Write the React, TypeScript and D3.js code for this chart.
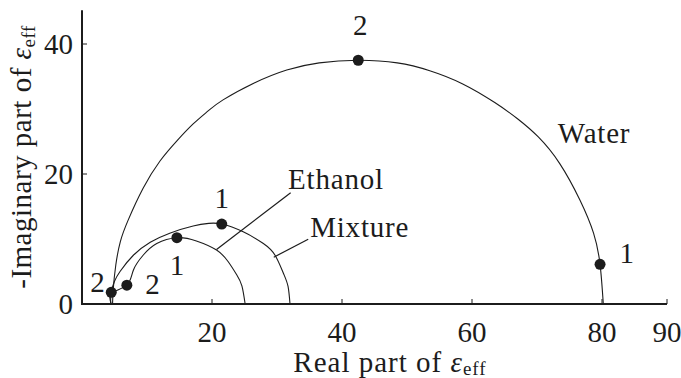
import React, { useRef, useEffect } from "react";
import * as d3 from "d3";

// axis ticks
const xTicks = [20, 40, 60, 80, 90];
const yTicks = [0, 20, 40];
const xMax = 90;
const yMax = 45.2;

// traced curves: [real, -imag]
const water: [number, number][] = [
  [4.7, 0], [4.8, 2.2], [5.2, 6.0], [5.9, 9.6], [7.1, 12.9], [9.4, 17.8],
  [12.0, 22.0], [14.6, 25.1], [17.1, 27.7], [19.4, 29.7], [21.7, 31.4],
  [26.5, 34.0], [31.5, 36.0], [36.5, 37.1], [42.5, 37.5], [48.5, 37.1],
  [53.5, 35.9], [58.5, 33.9], [63.5, 31.0], [67.0, 28.5], [70.2, 25.7],
  [73.5, 21.6], [76.6, 16.0], [78.7, 10.9], [79.7, 6.1], [80.2, 0],
];
const ethanol: [number, number][] = [
  [4.5, 0], [4.6, 1.7], [6.9, 2.9], [7.9, 5.2], [9.4, 7.5], [11.5, 9.3],
  [14.6, 10.2], [17.6, 9.7], [20.7, 8.3], [22.5, 6.5], [23.8, 4.5],
  [24.6, 2.8], [25.1, 0],
];
const mixture: [number, number][] = [
  [4.4, 0], [4.5, 1.8], [5.0, 3.5], [5.85, 5.0], [7.9, 7.5], [10.5, 9.5],
  [13.5, 10.9], [17.1, 12.0], [19.5, 12.4], [21.5, 12.3], [24.8, 11.1],
  [27.9, 9.3], [29.7, 7.5], [31.0, 4.7], [31.7, 2.7], [32.0, 0],
];

// frequency markers (1, 2) on each curve
const markers: [number, number][] = [
  [42.5, 37.5], [79.7, 6.1], [21.5, 12.3], [4.5, 1.8], [14.6, 10.2], [6.9, 2.9],
];
const markerLabels: [string, number, number][] = [
  ["2", 42.8, 41.4], ["1", 83.8, 6.35], ["1", 21.5, 14.8],
  ["2", 2.4, 1.9], ["1", 14.6, 4.5], ["2", 10.85, 1.55],
];

const curveNames: [string, number, number][] = [
  ["Water", 73.2, 24.8], ["Ethanol", 31.7, 17.7], ["Mixture", 35.1, 10.3],
];
const leaders: [number, number][][] = [
  [[32.1, 17.1], [20.7, 8.4]],
  [[34.8, 9.95], [29.5, 7.2]],
];

const font = "Liberation Serif, Times New Roman, serif";
const ink = "#1c1c1c";

const App = () => {
  const svgRef = useRef<SVGSVGElement>(null);

  useEffect(() => {
    if (!svgRef.current) return;
    const svg = d3.select(svgRef.current);
    svg.selectAll("*").remove();

    const x = d3.scaleLinear().domain([0, 80]).range([82, 602]);
    const y = d3.scaleLinear().domain([0, 40]).range([304, 44]);

    const line = d3
      .line<[number, number]>()
      .x((d) => x(d[0]))
      .y((d) => y(d[1]))
      .curve(d3.curveNatural);

    [water, ethanol, mixture].forEach((c) => {
      svg.append("path").attr("d", line(c)).attr("fill", "none")
        .attr("stroke", ink).attr("stroke-width", 1.1);
    });

    leaders.forEach((l) => {
      svg.append("line")
        .attr("x1", x(l[0][0])).attr("y1", y(l[0][1]))
        .attr("x2", x(l[1][0])).attr("y2", y(l[1][1]))
        .attr("stroke", ink).attr("stroke-width", 1.2);
    });

    // axes
    svg.append("line").attr("x1", x(0)).attr("x2", x(xMax))
      .attr("y1", y(0)).attr("y2", y(0)).attr("stroke", ink).attr("stroke-width", 2);
    svg.append("line").attr("x1", x(0)).attr("x2", x(0))
      .attr("y1", y(0) + 1).attr("y2", y(yMax)).attr("stroke", ink).attr("stroke-width", 2);

    xTicks.forEach((t) => {
      svg.append("line").attr("x1", x(t)).attr("x2", x(t))
        .attr("y1", y(0)).attr("y2", y(0) - 5).attr("stroke", ink).attr("stroke-width", 1);
      svg.append("text").attr("x", x(t)).attr("y", 342)
        .attr("text-anchor", "middle").text(t);
    });
    yTicks.forEach((t) => {
      if (t > 0) {
        svg.append("line").attr("x1", x(0)).attr("x2", x(0) + 5)
          .attr("y1", y(t)).attr("y2", y(t)).attr("stroke", ink).attr("stroke-width", 1);
      }
      svg.append("text").attr("x", 73).attr("y", y(t)).attr("dy", "0.35em")
        .attr("text-anchor", "end").text(t);
    });

    svg.selectAll(".dot").data(markers).enter().append("circle")
      .attr("class", "dot")
      .attr("cx", (d) => x(d[0])).attr("cy", (d) => y(d[1])).attr("r", 5.5)
      .attr("fill", ink);

    markerLabels.forEach((m) => {
      svg.append("text").attr("x", x(m[1])).attr("y", y(m[2]))
        .attr("text-anchor", "middle").text(m[0]);
    });
    curveNames.forEach((c) => {
      svg.append("text").attr("x", x(c[1])).attr("y", y(c[2]))
        .attr("letter-spacing", 0.8).text(c[0]);
    });

    // axis titles
    const xt = svg.append("text").attr("x", 390).attr("y", 372)
      .attr("text-anchor", "middle").attr("letter-spacing", 1);
    xt.append("tspan").text("Real part of ");
    xt.append("tspan").attr("font-style", "italic").text("ε");
    xt.append("tspan").attr("font-size", 19).attr("dy", 3).text("eff");

    const yt = svg.append("text").attr("transform", "translate(31,157) rotate(-90)")
      .attr("text-anchor", "middle").attr("letter-spacing", 0.5);
    yt.append("tspan").text("-Imaginary part of ");
    yt.append("tspan").attr("font-style", "italic").text("ε");
    yt.append("tspan").attr("font-size", 19).attr("dy", 4).text("eff");

    svg.selectAll("text").attr("font-family", font).attr("fill", ink)
      .filter(function () { return !d3.select(this).attr("font-size"); })
      .attr("font-size", 29);
  }, []);

  return (
    <svg ref={svgRef} width={681} height={378}
      style={{ position: "absolute", left: 0, top: 0, background: "#fff" }} />
  );
};

export default App;
